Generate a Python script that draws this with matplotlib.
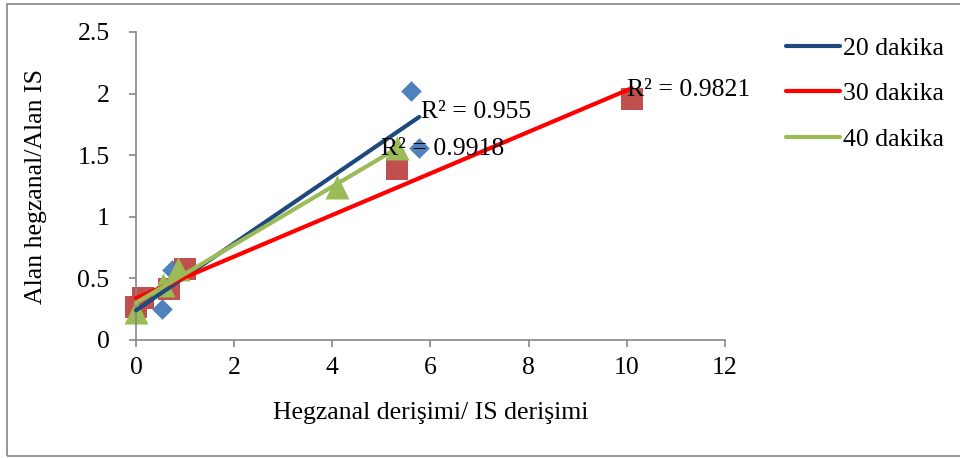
import numpy as np
import matplotlib.pyplot as plt
from matplotlib.lines import Line2D
from matplotlib.ticker import FormatStrFormatter

plt.rcParams['font.family'] = ['Liberation Serif', 'DejaVu Serif']

# data
x20 = [0.0, 0.52, 0.73, 5.61, 5.77]
y20 = [0.24, 0.25, 0.57, 2.02, 1.56]
x30 = [0.0, 0.15, 0.68, 1.0, 5.32, 10.1]
y30 = [0.27, 0.34, 0.41, 0.58, 1.39, 1.96]
x40 = [0.0, 0.56, 0.86, 4.09, 5.31]
y40 = [0.23, 0.45, 0.58, 1.24, 1.56]
r2_labels = ["R² = 0.955", "R² = 0.9821", "R² = 0.9918"]
series_names = ["20 dakika", "30 dakika", "40 dakika"]

fs = 18.5
fig = plt.figure(figsize=(9.6, 4.58), dpi=100)
ax = fig.add_axes([136/960, 1-340/458, 589/960, 308/458])

gray = '#868686'
# outer chart border
fig.add_artist(plt.Rectangle((7/960, 2/458), 960/960, 452/458, transform=fig.transFigure,
                             fill=False, edgecolor=gray, lw=1.2))

ax.scatter(x20, y20, marker='D', s=110, color='#4F81BD', zorder=2, linewidths=0, clip_on=False)
ax.scatter(x30, y30, marker='s', s=230, color='#C0504D', zorder=2, linewidths=0, clip_on=False)
ax.scatter(x40, y40, marker='^', s=300, color='#9BBB59', zorder=2, linewidths=0, clip_on=False)

line_cols = ['#1F497D', '#FF0000', '#9BBB59']
for xs, ys, c in zip([x20, x30, x40], [y20, y30, y40], line_cols):
    k, b = np.polyfit(xs, ys, 1)
    xx = np.array([min(xs), max(xs)])
    ax.plot(xx, k*xx + b, color=c, lw=3, zorder=3, solid_capstyle='round', clip_on=False)

ax.text(5.8, 1.85, r2_labels[0], fontsize=fs, va='center', ha='left', zorder=5)
ax.text(10.0, 2.03, r2_labels[1], fontsize=fs, va='center', ha='left', zorder=5)
ax.text(5.0, 1.55, r2_labels[2], fontsize=fs, va='center', ha='left', zorder=5)

ax.set_xlim(0, 12)
ax.set_ylim(0, 2.5)
ax.set_xticks(np.arange(0, 13, 2))
ax.set_yticks(np.arange(0, 2.6, 0.5))
ax.yaxis.set_major_formatter(FormatStrFormatter('%g'))
for s in ['top', 'right']:
    ax.spines[s].set_visible(False)
for s in ['left', 'bottom']:
    ax.spines[s].set_color(gray)
    ax.spines[s].set_linewidth(1.2)
ax.tick_params(colors=gray, labelcolor='black', labelsize=fs, length=5, width=1.2, direction='out')
ax.tick_params(axis='x', pad=7)
ax.tick_params(axis='y', pad=14)

ax.set_xlabel("Hegzanal derişimi/ IS derişimi", fontsize=fs, labelpad=17)
ax.set_ylabel("Alan hegzanal/Alan IS", fontsize=fs, labelpad=22)

handles = [Line2D([], [], color=c, lw=3, solid_capstyle='round') for c in line_cols]
fig.legend(handles, series_names, loc='upper left', bbox_to_anchor=(763/960, 1-14/458),
           frameon=False, fontsize=fs, handlelength=2.1, handletextpad=0.1, labelspacing=0.87)

fig.savefig('out.png', dpi=100)
